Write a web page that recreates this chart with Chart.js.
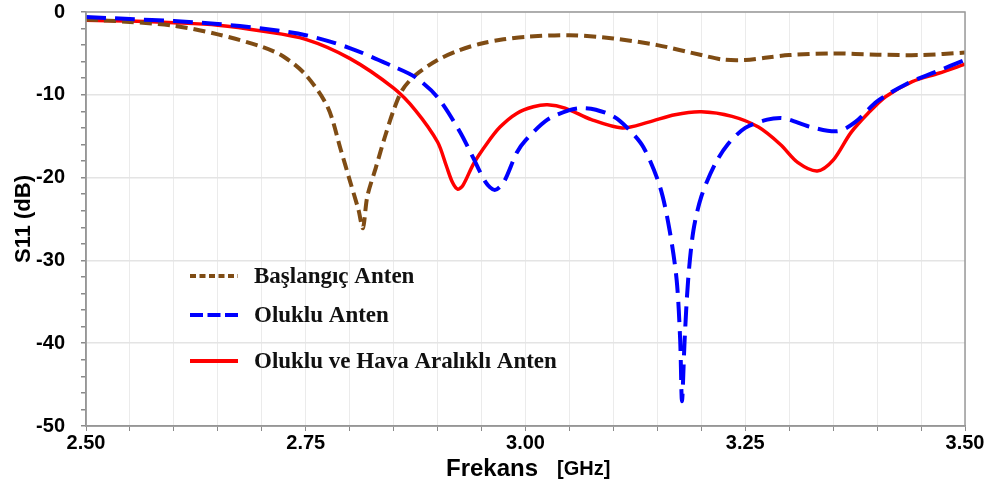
<!DOCTYPE html>
<html lang="tr">
  <head>
    <meta charset="UTF-8" />
    <title>S11 - Frekans</title>
    <script src="https://cdn.jsdelivr.net/npm/chart.js@4.4.1/dist/chart.umd.min.js"></script>
    <style>
      html, body { margin: 0; padding: 0; background: #fff; }
      .chart-box { width: 996px; height: 490px; position: relative; }
    </style>
  </head>
  <body>
    <div class="chart-box">
      <canvas id="s11Chart"></canvas>
    </div>

    <script>
      // Başlangıç Anten
      const baslangicFreq = [2.50, 2.55, 2.60, 2.65, 2.70, 2.725, 2.75, 2.775, 2.79, 2.80, 2.81, 2.815,
        2.82, 2.83, 2.84, 2.85, 2.86, 2.875, 2.90, 2.925, 2.95, 2.975, 3.00, 3.05, 3.10, 3.15,
        3.20, 3.225, 3.25, 3.275, 3.30, 3.35, 3.40, 3.45, 3.50];
      const baslangicS11 = [-0.9, -1.2, -1.65, -2.7, -4.2, -5.4, -7.6, -11.5, -16.7, -20.3, -23.9, -26.1,
        -22.3, -18.7, -15.1, -11.85, -9.4, -7.6, -5.8, -4.6, -3.8, -3.3, -3.0, -2.8, -3.2, -4.0,
        -5.2, -5.75, -5.8, -5.5, -5.2, -5.0, -5.15, -5.2, -4.9];

      // Oluklu Anten
      const olukluFreq = [2.50, 2.55, 2.60, 2.65, 2.70, 2.75, 2.80, 2.85, 2.875, 2.90, 2.925, 2.94,
        2.955, 2.965, 2.975, 2.99, 3.00, 3.025, 3.05, 3.065, 3.08, 3.10, 3.115, 3.134, 3.153, 3.164,
        3.172, 3.176, 3.178, 3.181, 3.185, 3.191, 3.20, 3.215, 3.23, 3.25, 3.275, 3.29, 3.30, 3.325,
        3.355, 3.375, 3.40, 3.435, 3.465, 3.50];
      const olukluS11 = [-0.6, -0.85, -1.1, -1.45, -2.0, -2.8, -4.35, -6.6, -7.9, -10.3, -14.4, -17.5,
        -20.6, -21.5, -20.6, -17.0, -15.5, -13.0, -11.85, -11.6, -11.8, -12.6, -13.9, -16.3, -21.1, -26.4,
        -32.4, -39.7, -47.0, -39.7, -32.4, -26.4, -22.3, -18.5, -16.0, -14.0, -13.0, -12.8, -13.0, -13.9,
        -14.4, -13.3, -10.8, -8.6, -7.3, -5.8];

      // Oluklu ve Hava Aralıklı Anten
      const havaFreq = [2.50, 2.55, 2.60, 2.65, 2.70, 2.75, 2.80, 2.85, 2.875, 2.90, 2.91, 2.917, 2.923,
        2.929, 2.941, 2.956, 2.971, 2.99, 3.009, 3.025, 3.045, 3.075, 3.11, 3.14, 3.17, 3.20, 3.235, 3.265, 3.29,
        3.31, 3.332, 3.35, 3.37, 3.39, 3.41, 3.44, 3.47, 3.50];
      const havaS11 = [-1.0, -1.1, -1.3, -1.6, -2.3, -3.3, -5.6, -9.2, -11.9, -15.7, -18.6, -20.6, -21.4,
        -20.9, -18.3, -15.9, -13.9, -12.25, -11.45, -11.2, -11.6, -13.0, -14.0, -13.3, -12.4, -12.05, -12.6, -13.9, -16.0,
        -18.2, -19.2, -17.9, -14.6, -12.2, -10.2, -8.4, -7.4, -6.3];

      const seriesNames = ['Başlangıç Anten', 'Oluklu Anten', 'Oluklu ve Hava Aralıklı Anten'];
      const xTickLabels = ['2.50', '2.75', '3.00', '3.25', '3.50'];
      const yTickLabels = ['0', '-10', '-20', '-30', '-40', '-50'];

      const toPoints = (fs, vs) => fs.map((f, i) => ({ x: f, y: vs[i] }));

      const BROWN = '#7f4c14';
      const BLUE = '#0000ff';
      const RED = '#ff0000';

      // legend + axis titles + frame, drawn by hand
      const decor = {
        id: 'decor',
        afterDraw(chart) {
          const { ctx, chartArea: a } = chart;
          ctx.save();

          // frame
          ctx.strokeStyle = '#9a9a9a';
          ctx.lineWidth = 1.5;
          ctx.strokeRect(a.left, a.top, a.right - a.left, a.bottom - a.top);

          // legend inside plot
          const rows = [
            { y: 276, color: BROWN, dash: [6, 3.5] },
            { y: 315, color: BLUE, dash: [13, 4.5] },
            { y: 361, color: RED, dash: [] }
          ];
          rows.forEach((r, i) => {
            ctx.beginPath();
            ctx.setLineDash(r.dash);
            ctx.strokeStyle = r.color;
            ctx.lineWidth = 4;
            ctx.moveTo(190, r.y);
            ctx.lineTo(238, r.y);
            ctx.stroke();
            ctx.setLineDash([]);
            ctx.fillStyle = '#111';
            ctx.font = 'bold 23px "Liberation Serif", serif';
            ctx.textAlign = 'left';
            ctx.textBaseline = 'alphabetic';
            ctx.fillText(seriesNames[i], 254, r.y + 7);
          });

          // x title
          ctx.fillStyle = '#000';
          ctx.font = 'bold 24px "Liberation Sans", Arial, sans-serif';
          ctx.fillText('Frekans', 446, 476);
          ctx.font = 'bold 20px "Liberation Sans", Arial, sans-serif';
          ctx.fillText('[GHz]', 557, 475);

          // y title
          ctx.translate(30, 219);
          ctx.rotate(-Math.PI / 2);
          ctx.textAlign = 'center';
          ctx.font = 'bold 22px "Liberation Sans", Arial, sans-serif';
          ctx.fillText('S11 (dB)', 0, 0);

          ctx.restore();
        }
      };

      const isMult = (v, step) => Math.abs(v / step - Math.round(v / step)) < 1e-6;

      new Chart(document.getElementById('s11Chart'), {
        type: 'line',
        data: {
          datasets: [
            {
              label: seriesNames[0],
              data: toPoints(baslangicFreq, baslangicS11),
              borderColor: BROWN,
              borderWidth: 4,
              borderDash: [12, 6],
              order: 1
            },
            {
              label: seriesNames[1],
              data: toPoints(olukluFreq, olukluS11),
              borderColor: BLUE,
              borderWidth: 4,
              borderDash: [20, 9],
              order: 0
            },
            {
              label: seriesNames[2],
              data: toPoints(havaFreq, havaS11),
              borderColor: RED,
              borderWidth: 3.5,
              order: 2
            }
          ]
        },
        options: {
          responsive: true,
          maintainAspectRatio: false,
          animation: false,
          layout: { padding: { top: 12, right: 31, left: 0, bottom: 0 } },
          elements: {
            point: { radius: 0 },
            line: { tension: 0.3, fill: false }
          },
          plugins: {
            legend: { display: false },
            tooltip: { enabled: false }
          },
          scales: {
            x: {
              type: 'linear',
              min: 2.5,
              max: 3.5,
              afterFit: (s) => { s.height = 64; },
              border: { color: '#8a8a8a', width: 1.5 },
              grid: {
                color: '#ebebeb',
                lineWidth: 1,
                tickColor: '#8a8a8a',
                tickLength: 5
              },
              ticks: {
                stepSize: 0.05,
                autoSkip: false,
                maxRotation: 0,
                padding: 0,
                color: '#000',
                font: { family: '"Liberation Sans", Arial', size: 20, weight: 'bold' },
                callback: (v) => {
                  if (!isMult(v, 0.25)) return '';
                  const s = v.toFixed(2);
                  return xTickLabels.includes(s) ? s : '';
                }
              }
            },
            y: {
              min: -50,
              max: 0,
              afterFit: (s) => { s.width = 86; s.paddingTop = 0; s.paddingBottom = 0; },
              border: { color: '#8a8a8a', width: 1.5 },
              grid: {
                color: (c) => (isMult(c.tick.value, 10) ? '#e4e4e4' : 'rgba(0,0,0,0)'),
                lineWidth: 1.5,
                tickColor: '#8a8a8a',
                tickLength: 5
              },
              ticks: {
                stepSize: 2,
                autoSkip: false,
                padding: 16,
                color: '#000',
                font: { family: '"Liberation Sans", Arial', size: 20, weight: 'bold' },
                callback: (v) => {
                  const s = String(Math.round(v));
                  return isMult(v, 10) && yTickLabels.includes(s) ? s : '';
                }
              }
            }
          }
        },
        plugins: [decor]
      });
    </script>
  </body>
</html>
